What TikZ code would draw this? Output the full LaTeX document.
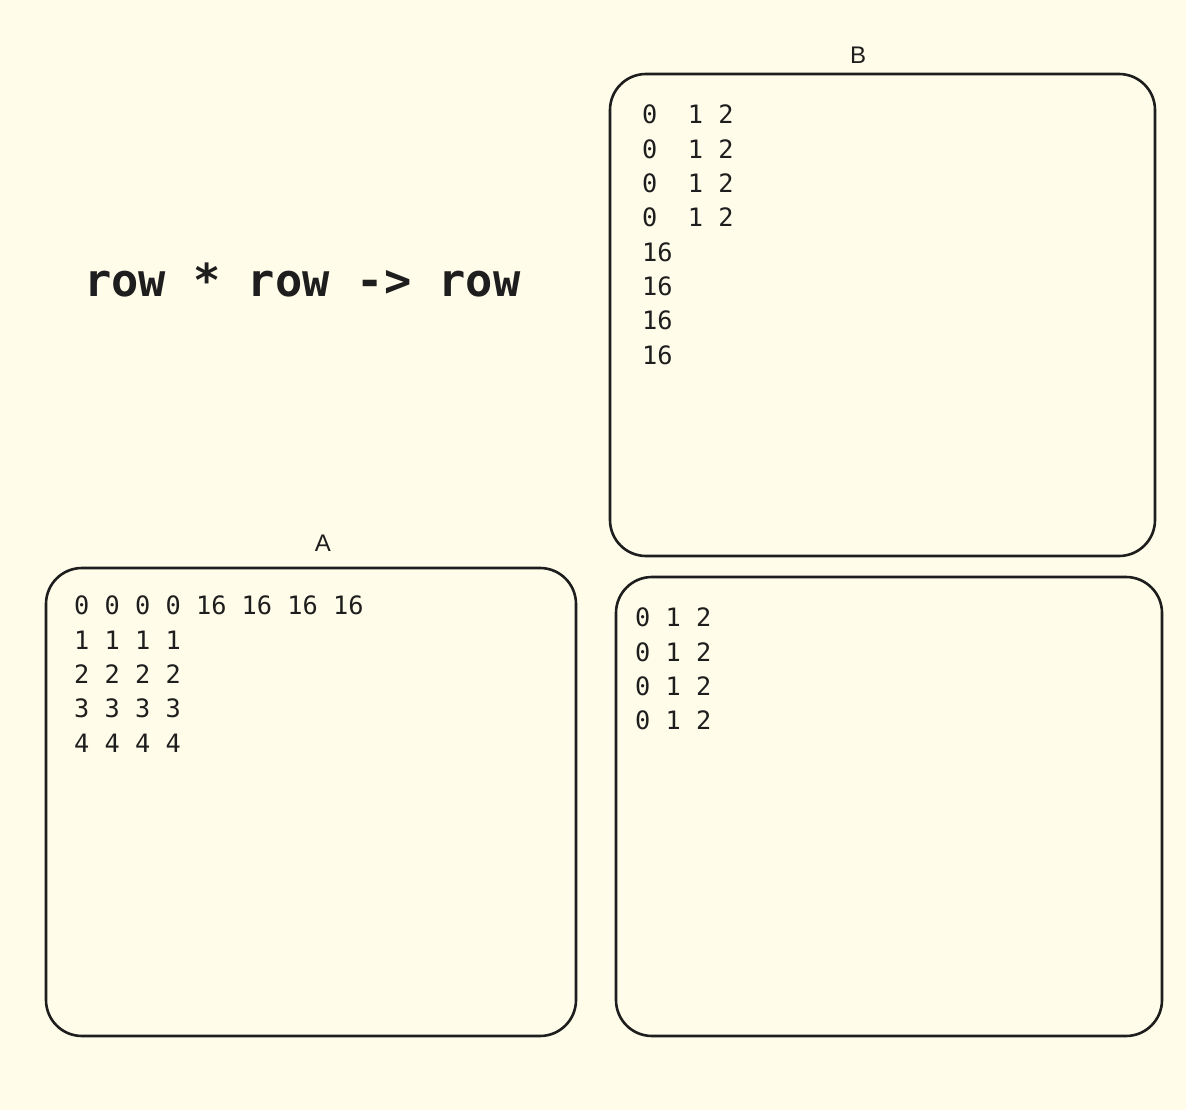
\documentclass[tikz,border=0pt]{standalone}
\usepackage{fontspec}
\setmainfont{Liberation Sans}
\newfontfamily\gridfont{DejaVu Sans Mono}
\definecolor{paper}{HTML}{FFFCE9}
\definecolor{ink}{HTML}{1E1E1E}
\begin{document}
\begin{tikzpicture}[x=1pt, y=-1pt, ink,
        panel/.style={draw=ink, line width=2.6pt, rounded corners=36pt, inner sep=0pt},
        numtext/.style={anchor=north west, inner sep=0pt, align=left, font=\gridfont\fontsize{25.3}{34.3}\selectfont},
        tag/.style={inner sep=0pt, font=\fontsize{24}{26}\selectfont}]
    \useasboundingbox[fill=paper] (0,0) rectangle (1186,1110);
    \node[anchor=base west, inner sep=0pt, font=\gridfont\bfseries\fontsize{45.3}{50}\selectfont] (title) at (84,296) {row * row -> row};
    \node[panel, minimum width=545pt, minimum height=482pt] (B) at (882.5,315) {};
    \node[panel, minimum width=530pt, minimum height=468pt] (A) at (311,802) {};
    \node[panel, minimum width=546pt, minimum height=459pt] (C) at (889,806.5) {};
    \node[tag] (labB) at (858,55) {B};
    \node[tag] (labA) at (323,543) {A};
    \node[numtext] (gridB) at (642,105) {0~~1~2\\0~~1~2\\0~~1~2\\0~~1~2\\16\\16\\16\\16};
    \node[numtext] (gridA) at (74,596) {0 0 0 0 16 16 16 16\\1 1 1 1\\2 2 2 2\\3 3 3 3\\4 4 4 4};
    \node[numtext] (gridC) at (635,608) {0 1 2\\0 1 2\\0 1 2\\0 1 2};
\end{tikzpicture}
\end{document}
